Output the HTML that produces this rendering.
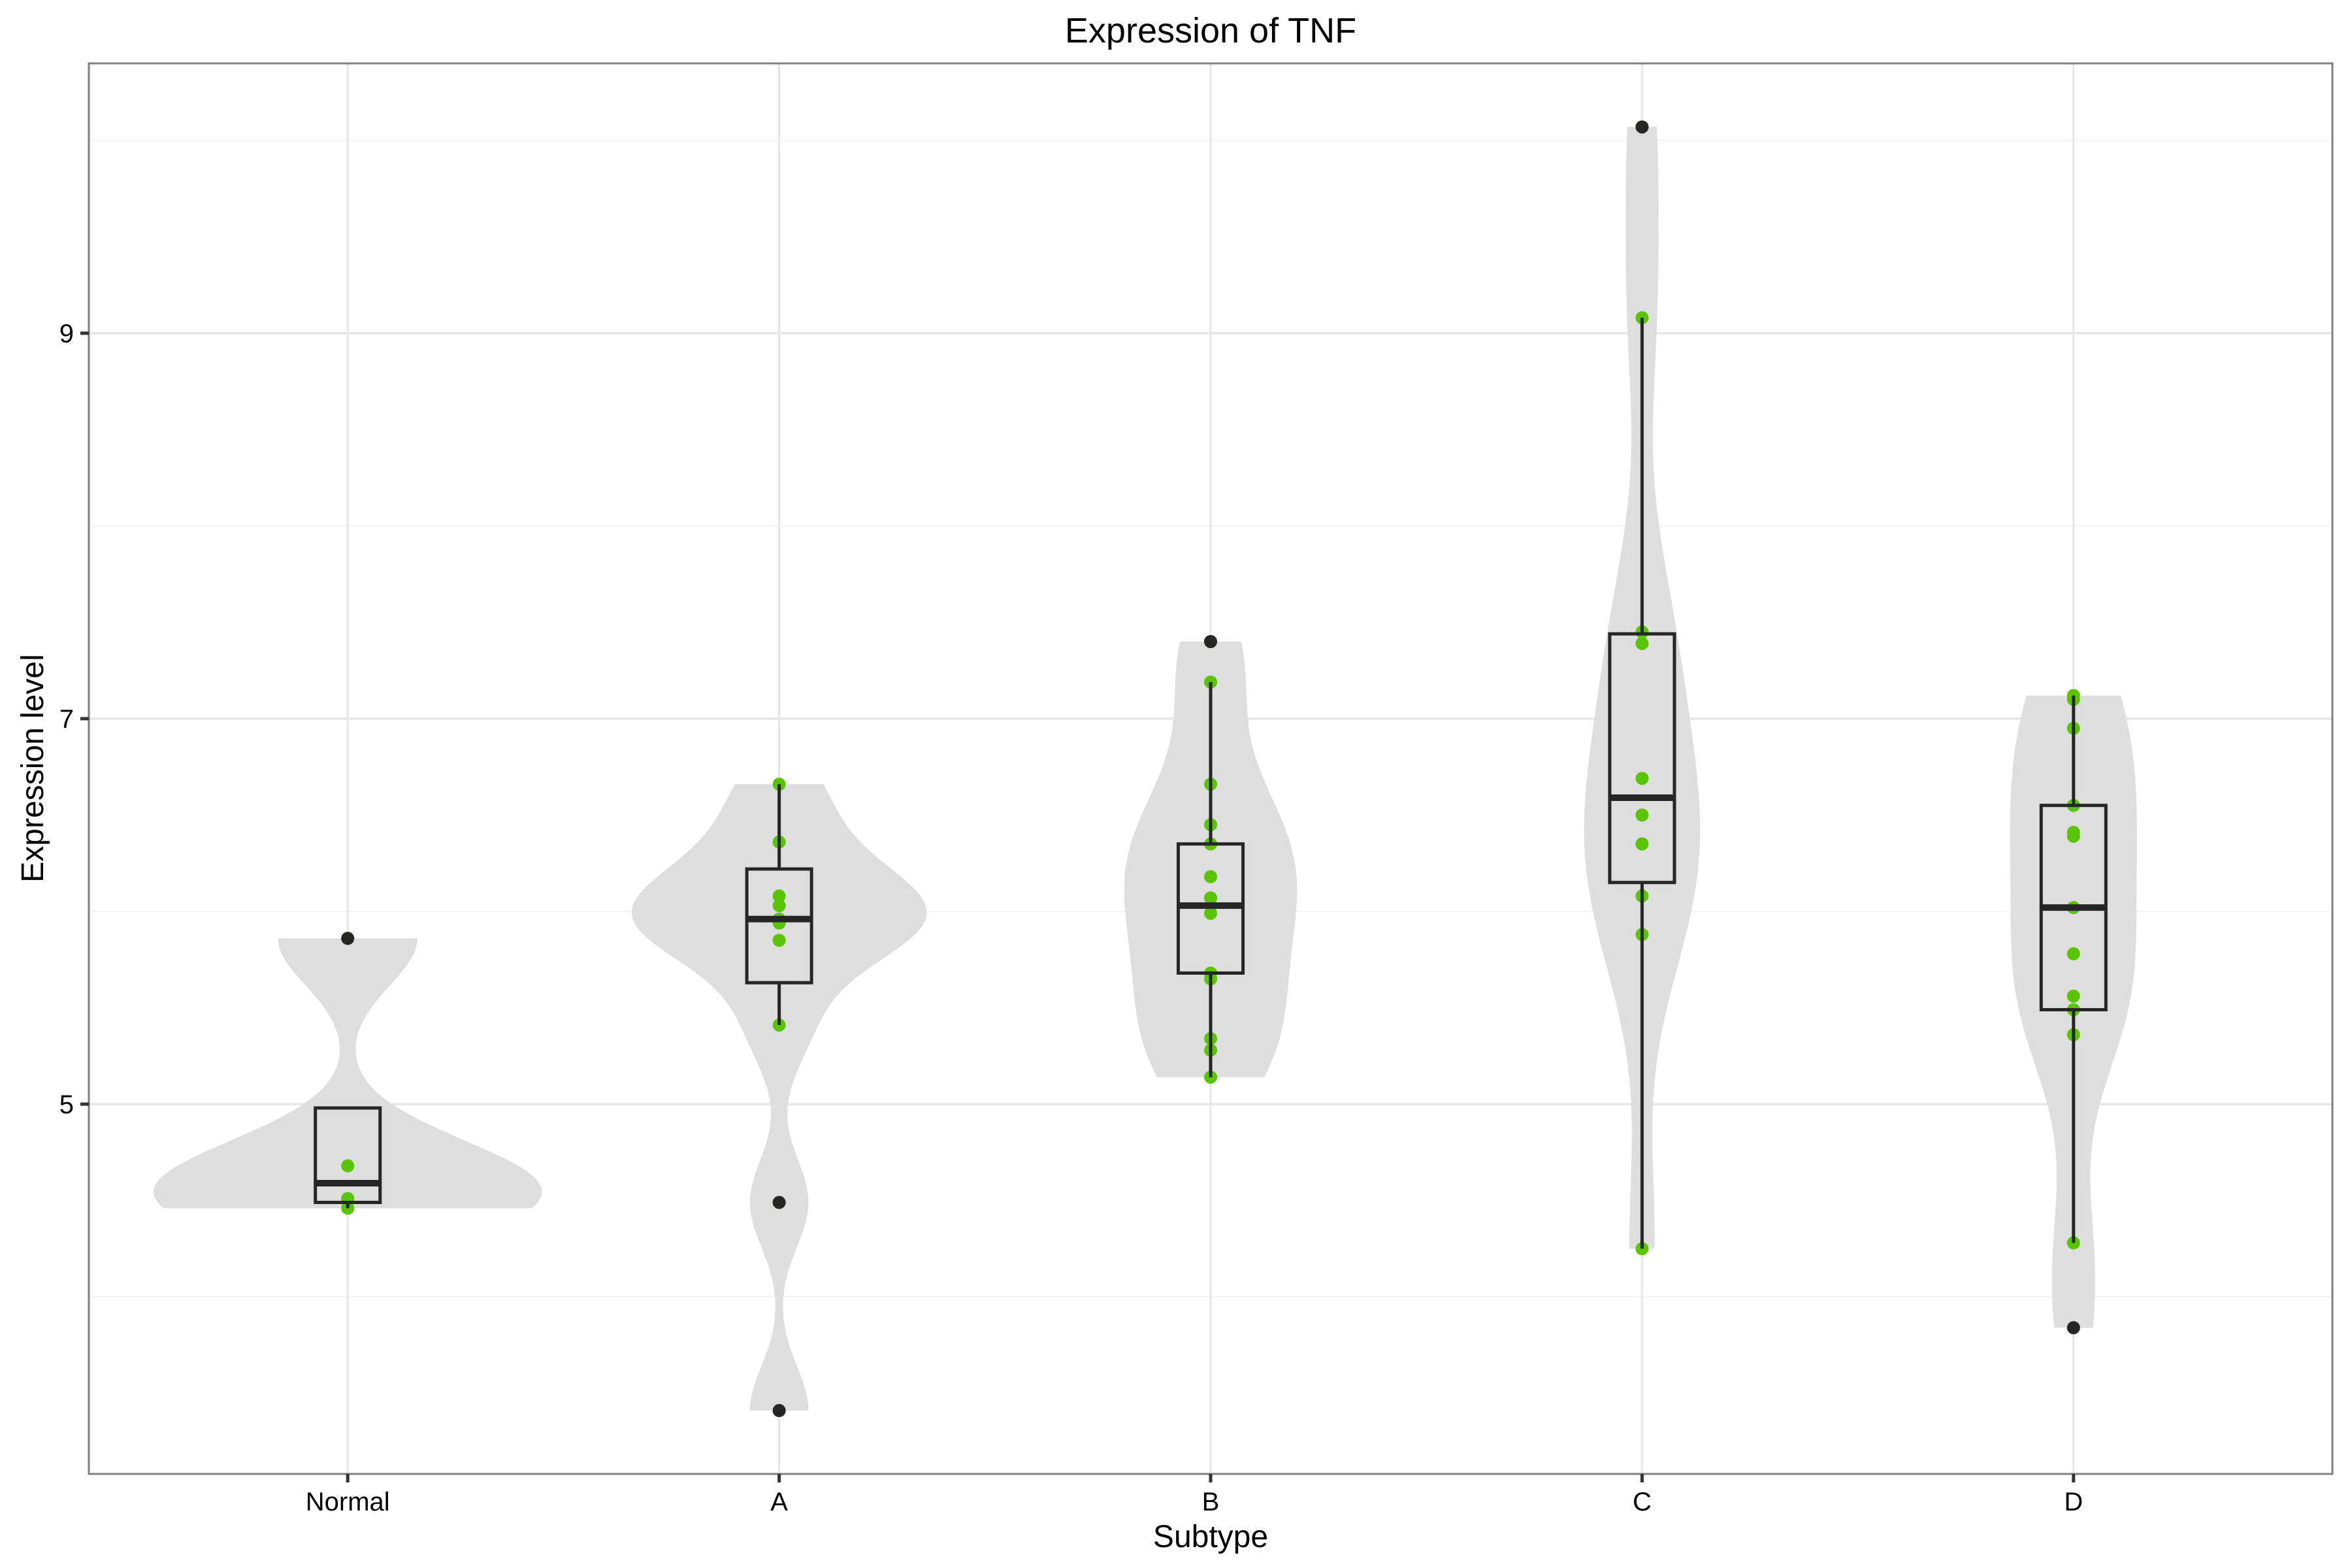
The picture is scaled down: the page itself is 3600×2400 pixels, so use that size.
<!DOCTYPE html>
<html><head><meta charset="utf-8"><style>
html,body{margin:0;padding:0;background:#fff;width:3600px;height:2400px;overflow:hidden}
svg text{font-family:"Liberation Sans",Arial,sans-serif}
</style></head><body>
<svg id="chart" width="3600" height="2400" viewBox="0 0 3600 2400" xmlns="http://www.w3.org/2000/svg">
<rect x="0" y="0" width="3600" height="2400" fill="#fff"/>
<g id="grid"></g>
<g id="violins"></g>
<g id="points"></g>
<g id="boxes"></g>
<rect x="136" y="97" width="3434" height="2159" fill="none" stroke="#7f7f7f" stroke-width="3"/>
<g id="axes"></g>
<text x="1853" y="65" text-anchor="middle" font-size="54" fill="#000">Expression of TNF</text>
<text x="1853" y="2368" text-anchor="middle" font-size="48" fill="#000">Subtype</text>
<text x="0" y="0" transform="translate(66,1176) rotate(-90)" text-anchor="middle" font-size="48" fill="#000">Expression level</text>
</svg>
<script>
const categories = ["Normal","A","B","C","D"];
const ptsNormal = [4.46,4.51,4.68,5.86];
const ptsA = [3.41,4.49,5.41,5.85,5.94,5.96,6.03,6.08,6.36,6.66];
const ptsB = [5.14,5.28,5.34,5.65,5.68,5.99,6.07,6.18,6.35,6.45,6.66,7.19,7.40];
const ptsC = [4.25,5.88,6.08,6.35,6.50,6.69,7.39,7.45,9.08,10.07];
const ptsD = [3.84,4.28,5.36,5.49,5.56,5.78,6.02,6.39,6.41,6.55,6.95,7.10,7.12];
const groupPoints = [ptsNormal, ptsA, ptsB, ptsC, ptsD];
const boxQ1 = [4.49,5.63,5.68,6.15,5.49];
const boxMedian = [4.59,5.96,6.03,6.59,6.02];
const boxQ3 = [4.98,6.22,6.35,7.44,6.55];
const whiskerLow = [4.46,5.41,5.14,4.25,4.28];
const whiskerHigh = [4.98,6.66,7.19,9.08,7.12];
const outliersNormal = [5.86];
const outliersA = [4.49,3.41];
const outliersB = [7.40];
const outliersC = [10.07];
const outliersD = [3.84];
const groupOutliers = [outliersNormal, outliersA, outliersB, outliersC, outliersD];
const yMajorTicks = [5,7,9];
const yMinorTicks = [4,6,8,10];
const yTickLabels = ["5","7","9"];

const NS="http://www.w3.org/2000/svg";
const PL=136, PR=3570, PT=97, PB=2256;
const unitX=(PR-PL)/5.2;
function xScale(i){return PL+(0.6+i)*unitX;}
function yScale(v){return 1690-(v-5)*295;}
function mk(tag,attrs,parent){const e=document.createElementNS(NS,tag);for(const k in attrs)e.setAttribute(k,attrs[k]);parent.appendChild(e);return e;}

const grid=document.getElementById('grid');
mk('rect',{x:PL,y:PT,width:PR-PL,height:PB-PT,fill:'#fff'},grid);
yMinorTicks.forEach(v=>{
  const l=mk('line',{x1:PL,x2:PR,y1:yScale(v),y2:yScale(v),stroke:'#f4f4f4','stroke-width':2.5},grid);
  
  
});
yMajorTicks.forEach(v=>{
  const l=mk('line',{x1:PL,x2:PR,y1:yScale(v),y2:yScale(v),stroke:'#e6e6e6','stroke-width':3.5},grid);
  
  
});
categories.forEach((c,i)=>{
  const l=mk('line',{x1:xScale(i),x2:xScale(i),y1:PT,y2:PB,stroke:'#e6e6e6','stroke-width':3},grid);
  
  
});

function sd(a){const m=a.reduce((s,v)=>s+v,0)/a.length;return Math.sqrt(a.reduce((s,v)=>s+(v-m)*(v-m),0)/(a.length-1));}
function q(a,p){const s=[...a].sort((x,y)=>x-y);const h=(s.length-1)*p;const lo=Math.floor(h);return s[lo]+(h-lo)*((s[lo+1]??s[lo])-s[lo]);}
function bw(a){const lo=Math.min(sd(a),(q(a,.75)-q(a,.25))/1.34);return 0.9*lo*Math.pow(a.length,-0.2);}
const dens=groupPoints.map(a=>{
  const h=bw(a),mn=Math.min(...a),mx=Math.max(...a),out=[];
  for(let k=0;k<=200;k++){const y=mn+(mx-mn)*k/200;let d=0;a.forEach(v=>{const z=(y-v)/h;d+=Math.exp(-0.5*z*z);});d/=a.length*h*Math.sqrt(2*Math.PI);out.push([y,d]);}
  return out;
});
const maxD=Math.max(...dens.map(g=>Math.max(...g.map(p=>p[1]))));
const vg=document.getElementById('violins');
dens.forEach((g,i)=>{
  const cx=xScale(i),half=0.45*unitX;
  let d='';
  g.forEach((p,k)=>{d+=(k?'L':'M')+(cx-p[1]/maxD*half).toFixed(1)+','+yScale(p[0]).toFixed(1);});
  for(let k=g.length-1;k>=0;k--){const p=g[k];d+='L'+(cx+p[1]/maxD*half).toFixed(1)+','+yScale(p[0]).toFixed(1);}
  d+='Z';
  const path=mk('path',{d:d,fill:'#dedede',stroke:'none'},vg);
  
  
});

const pg=document.getElementById('points');
groupPoints.forEach((a,i)=>{
  a.forEach(v=>{
    const c=mk('circle',{cx:xScale(i),cy:yScale(v),r:10,fill:'#59c400'},pg);
    
    
  });
});

const bg=document.getElementById('boxes');
const bw2=0.15*unitX/2;
categories.forEach((c,i)=>{
  const cx=xScale(i);
  const wl=mk('line',{x1:cx,x2:cx,y1:yScale(whiskerLow[i]),y2:yScale(boxQ1[i]),stroke:'#262626','stroke-width':5},bg);
  
  
  const wh=mk('line',{x1:cx,x2:cx,y1:yScale(boxQ3[i]),y2:yScale(whiskerHigh[i]),stroke:'#262626','stroke-width':5},bg);
  
  
  const r=mk('rect',{x:cx-bw2,y:yScale(boxQ3[i]),width:2*bw2,height:yScale(boxQ1[i])-yScale(boxQ3[i]),fill:'none',stroke:'#262626','stroke-width':5},bg);
  
  
  const m=mk('line',{x1:cx-bw2,x2:cx+bw2,y1:yScale(boxMedian[i]),y2:yScale(boxMedian[i]),stroke:'#262626','stroke-width':10},bg);
  
  
  groupOutliers[i].forEach(v=>{
    const o=mk('circle',{cx:cx,cy:yScale(v),r:10,fill:'#262626'},bg);
    
    
  });
});

const ax=document.getElementById('axes');
yMajorTicks.forEach((v,k)=>{
  const t=mk('line',{x1:123,x2:136,y1:yScale(v),y2:yScale(v),stroke:'#333','stroke-width':5},ax);
  
  
  const tx=mk('text',{x:113,y:yScale(v)+14,'text-anchor':'end','font-size':40,fill:'#000'},ax);
  tx.textContent=yTickLabels[k];
  
  
});
categories.forEach((c,i)=>{
  const t=mk('line',{x1:xScale(i),x2:xScale(i),y1:PB,y2:PB+13,stroke:'#333','stroke-width':5},ax);
  
  
  const tx=mk('text',{x:xScale(i),y:PB+56,'text-anchor':'middle','font-size':40,fill:'#000'},ax);
  tx.textContent=c;
  
  
});
</script>
</body></html>
